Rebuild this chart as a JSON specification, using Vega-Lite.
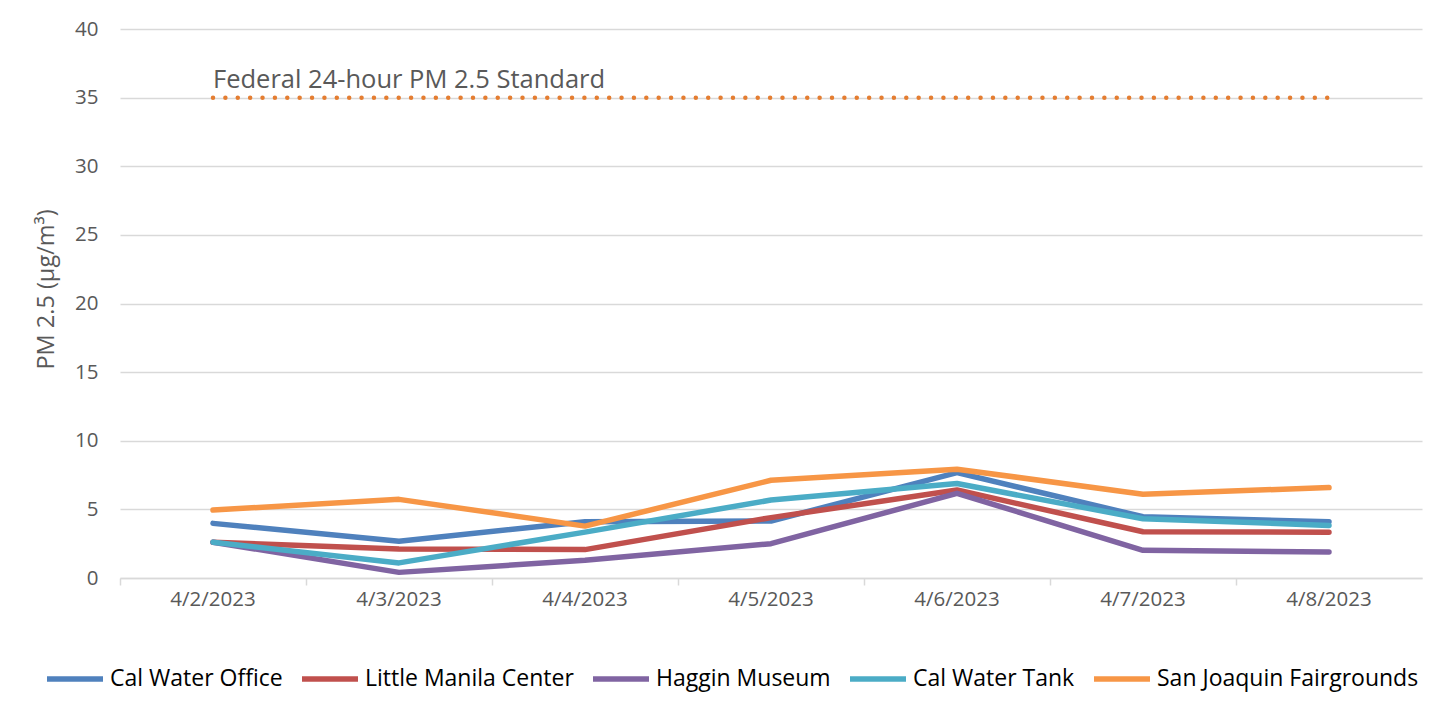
{
  "$schema": "https://vega.github.io/schema/vega-lite/v6.json",
  "width": 1302,
  "height": 549,
  "autosize": "none",
  "padding": {"left": 120, "top": 29, "right": 33, "bottom": 139},
  "background": "white",
  "config": {
    "font": "Open Sans",
    "view": {"stroke": null},
    "axis": {"labelFont": "Open Sans", "titleFont": "Open Sans"}
  },
  "datasets": {
    "pm": [
      {"date": "4/2/2023", "site": "Cal Water Office", "pm25": 3.98},
      {"date": "4/3/2023", "site": "Cal Water Office", "pm25": 2.68},
      {"date": "4/4/2023", "site": "Cal Water Office", "pm25": 4.1},
      {"date": "4/5/2023", "site": "Cal Water Office", "pm25": 4.15},
      {"date": "4/6/2023", "site": "Cal Water Office", "pm25": 7.68},
      {"date": "4/7/2023", "site": "Cal Water Office", "pm25": 4.46},
      {"date": "4/8/2023", "site": "Cal Water Office", "pm25": 4.1},
      {"date": "4/2/2023", "site": "Little Manila Center", "pm25": 2.61},
      {"date": "4/3/2023", "site": "Little Manila Center", "pm25": 2.12},
      {"date": "4/4/2023", "site": "Little Manila Center", "pm25": 2.07},
      {"date": "4/5/2023", "site": "Little Manila Center", "pm25": 4.4},
      {"date": "4/6/2023", "site": "Little Manila Center", "pm25": 6.41},
      {"date": "4/7/2023", "site": "Little Manila Center", "pm25": 3.37},
      {"date": "4/8/2023", "site": "Little Manila Center", "pm25": 3.34},
      {"date": "4/2/2023", "site": "Haggin Museum", "pm25": 2.61},
      {"date": "4/3/2023", "site": "Haggin Museum", "pm25": 0.41},
      {"date": "4/4/2023", "site": "Haggin Museum", "pm25": 1.29},
      {"date": "4/5/2023", "site": "Haggin Museum", "pm25": 2.5},
      {"date": "4/6/2023", "site": "Haggin Museum", "pm25": 6.17},
      {"date": "4/7/2023", "site": "Haggin Museum", "pm25": 2.02},
      {"date": "4/8/2023", "site": "Haggin Museum", "pm25": 1.9},
      {"date": "4/2/2023", "site": "Cal Water Tank", "pm25": 2.61},
      {"date": "4/3/2023", "site": "Cal Water Tank", "pm25": 1.1},
      {"date": "4/4/2023", "site": "Cal Water Tank", "pm25": 3.34},
      {"date": "4/5/2023", "site": "Cal Water Tank", "pm25": 5.68},
      {"date": "4/6/2023", "site": "Cal Water Tank", "pm25": 6.88},
      {"date": "4/7/2023", "site": "Cal Water Tank", "pm25": 4.32},
      {"date": "4/8/2023", "site": "Cal Water Tank", "pm25": 3.83},
      {"date": "4/2/2023", "site": "San Joaquin Fairgrounds", "pm25": 4.95},
      {"date": "4/3/2023", "site": "San Joaquin Fairgrounds", "pm25": 5.73},
      {"date": "4/4/2023", "site": "San Joaquin Fairgrounds", "pm25": 3.78},
      {"date": "4/5/2023", "site": "San Joaquin Fairgrounds", "pm25": 7.12},
      {"date": "4/6/2023", "site": "San Joaquin Fairgrounds", "pm25": 7.93},
      {"date": "4/7/2023", "site": "San Joaquin Fairgrounds", "pm25": 6.1},
      {"date": "4/8/2023", "site": "San Joaquin Fairgrounds", "pm25": 6.59}
    ],
    "standard": [
      {"date": "4/2/2023", "pm25": 35, "label": "Federal 24-hour PM 2.5 Standard"},
      {"date": "4/3/2023", "pm25": 35, "label": ""},
      {"date": "4/4/2023", "pm25": 35, "label": ""},
      {"date": "4/5/2023", "pm25": 35, "label": ""},
      {"date": "4/6/2023", "pm25": 35, "label": ""},
      {"date": "4/7/2023", "pm25": 35, "label": ""},
      {"date": "4/8/2023", "pm25": 35, "label": ""}
    ]
  },
  "layer": [
    {
      "data": {"name": "standard"},
      "mark": {"type": "line", "color": "#E47D31", "strokeWidth": 4.5, "strokeDash": [0.01, 12.37], "strokeCap": "round"},
      "encoding": {
        "x": {"field": "date", "type": "nominal", "bandPosition": 0.5},
        "y": {"field": "pm25", "type": "quantitative"}
      }
    },
    {
      "data": {"name": "standard"},
      "transform": [{"filter": "datum.label != ''"}],
      "mark": {"type": "text", "align": "left", "baseline": "alphabetic", "dy": -10, "fontSize": 25.5, "color": "#595959", "font": "Open Sans"},
      "encoding": {
        "x": {"field": "date", "type": "nominal", "bandPosition": 0.5},
        "y": {"field": "pm25", "type": "quantitative"},
        "text": {"field": "label"}
      }
    },
    {
      "data": {"name": "pm"},
      "mark": {"type": "line", "strokeWidth": 5.5, "strokeJoin": "round", "strokeCap": "round"},
      "encoding": {
        "x": {
          "field": "date", "type": "nominal", "bandPosition": 0.5,
          "sort": ["4/2/2023", "4/3/2023", "4/4/2023", "4/5/2023", "4/6/2023", "4/7/2023", "4/8/2023"],
          "scale": {"type": "band", "paddingInner": 0, "paddingOuter": 0},
          "axis": {
            "title": null, "labelAngle": 0, "bandPosition": 0, "labelAlign": "center",
            "labelFontSize": 20.5, "labelColor": "#595959", "labelPadding": 14,
            "domainColor": "#D9D9D9", "domainWidth": 1.5, "tickColor": "#D9D9D9", "tickWidth": 1.5, "tickSize": 7,
            "grid": false
          }
        },
        "y": {
          "field": "pm25", "type": "quantitative",
          "scale": {"domain": [0, 40]},
          "axis": {
            "title": "PM 2.5 (µg/m³)", "values": [0, 5, 10, 15, 20, 25, 30, 35, 40],
            "labelFontSize": 20.5, "labelColor": "#595959", "labelPadding": 22,
            "titleFontSize": 23.5, "titleColor": "#595959", "titleFontWeight": "normal", "titlePadding": 16,
            "titleY": 260,
            "domain": false, "ticks": false, "gridColor": "#D9D9D9", "gridWidth": 1.5
          }
        },
        "color": {
          "field": "site", "type": "nominal",
          "sort": ["Cal Water Office", "Little Manila Center", "Haggin Museum", "Cal Water Tank", "San Joaquin Fairgrounds"],
          "scale": {
            "domain": ["Cal Water Office", "Little Manila Center", "Haggin Museum", "Cal Water Tank", "San Joaquin Fairgrounds"],
            "range": ["#4F81BD", "#C0504D", "#8064A2", "#4BACC6", "#F79646"]
          },
          "legend": {
            "title": null, "orient": "none", "direction": "horizontal",
            "legendX": -76, "legendY": 619,
            "symbolType": "stroke", "symbolSize": 3136, "symbolStrokeWidth": 5.5,
            "labelFontSize": 23, "labelColor": "#000000", "labelFont": "Open Sans", "labelOffset": 4,
            "columnPadding": 8, "labelLimit": 400
          }
        }
      }
    }
  ]
}
